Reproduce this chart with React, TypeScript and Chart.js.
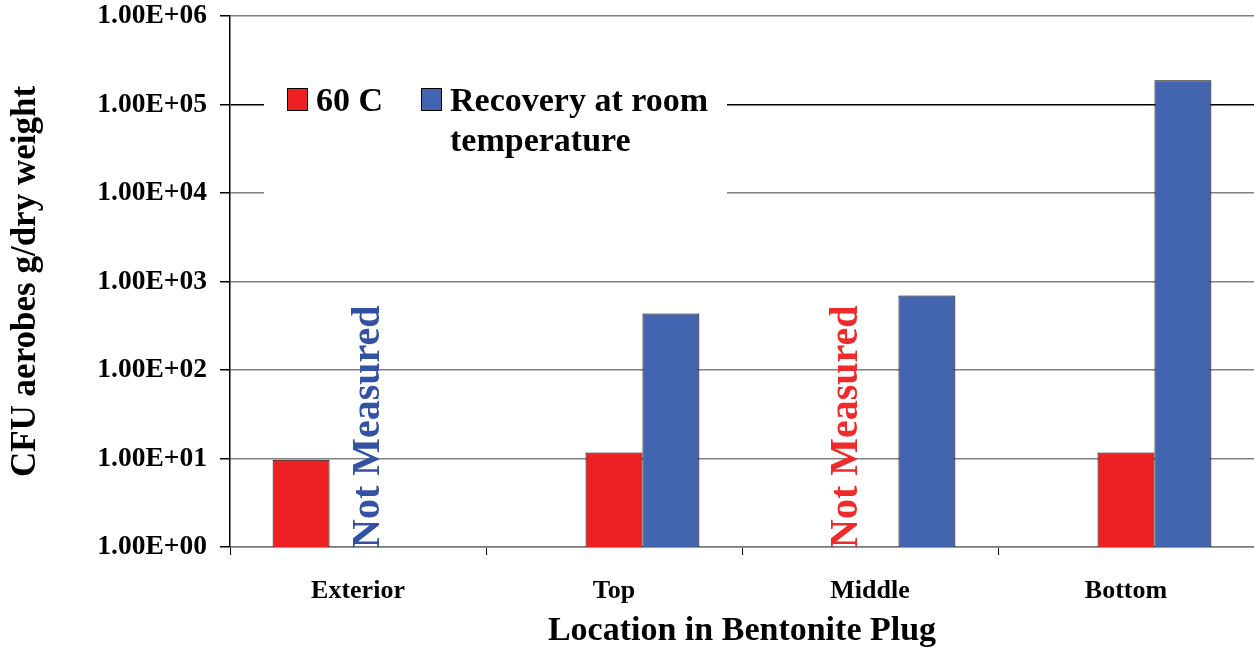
import React, { useEffect, useRef } from "react";
import { Chart, registerables } from "chart.js";

Chart.register(...registerables);

// ---------- data ----------
const categories = ["Exterior", "Top", "Middle", "Bottom"];
const seriesNames = ["60 C", "Recovery at room temperature"];
// Exterior 60 C bar sits in the first slot of the original three-slot layout
const exterior60C = [9.7, null, null, null];
const values60C = [null, 11.7, null, 11.7];
const valuesRecovery = [null, 434, 693, 188500];
const notMeasuredCategories = ["Exterior", "Middle"];
const notMeasuredSeries = [1, 0]; // 1 = Recovery, 0 = 60 C
const notMeasuredText = "Not Measured";
const yTickValues = [1, 10, 100, 1000, 10000, 100000, 1000000];
const yTickLabels = ["1.00E+00", "1.00E+01", "1.00E+02", "1.00E+03", "1.00E+04", "1.00E+05", "1.00E+06"];
const yAxisTitle = "CFU aerobes g/dry weight";
const xAxisTitle = "Location in Bentonite Plug";

// ---------- styles ----------
const RED = "#ED2024";
const BLUE = "#4364AE";
const NM_BLUE = "#3352A3";
const NM_RED = "#EE2A2A";
const FONT = "'Liberation Serif', 'Times New Roman', serif";

const legendPlugin = {
  id: "customLegend",
  afterDraw(chart: any) {
    const { ctx, chartArea } = chart;
    const L = chartArea.left;
    const T = chartArea.top;
    ctx.save();
    ctx.fillStyle = "#ffffff";
    ctx.fillRect(L + 34, T + 40, 463, 150);
    ctx.font = `bold 34px ${FONT}`;
    ctx.textBaseline = "alphabetic";
    ctx.textAlign = "left";
    const items = [
      { x: L + 57, color: RED, text: seriesNames[0] },
      { x: L + 191, color: BLUE, text: seriesNames[1] },
    ];
    items.forEach((it) => {
      ctx.fillStyle = it.color;
      ctx.fillRect(it.x, T + 72, 21, 23);
      ctx.strokeStyle = "#000";
      ctx.lineWidth = 1;
      ctx.strokeRect(it.x + 0.5, T + 72.5, 20, 22);
      ctx.fillStyle = "#000";
      const words = it.text.split(" ");
      const lines: string[] = [];
      let cur = "";
      words.forEach((w) => {
        const test = cur ? cur + " " + w : w;
        if (ctx.measureText(test).width > 275 && cur) {
          lines.push(cur);
          cur = w;
        } else cur = test;
      });
      if (cur) lines.push(cur);
      lines.forEach((ln, i) => ctx.fillText(ln, it.x + 29, T + 95 + i * 40));
    });
    ctx.restore();
  },
};

const notMeasuredPlugin = {
  id: "notMeasured",
  afterDatasetsDraw(chart: any) {
    const { ctx } = chart;
    const xs = chart.scales.x;
    const ys = chart.scales.y;
    const catW = (xs.right - xs.left) / categories.length;
    ctx.save();
    ctx.font = `bold 40px ${FONT}`;
    ctx.textAlign = "left";
    ctx.textBaseline = "alphabetic";
    notMeasuredCategories.forEach((cat, i) => {
      const idx = categories.indexOf(cat);
      const series = notMeasuredSeries[i];
      const xc = xs.getPixelForValue(idx);
      const bx = xc + (series === 1 ? 0.082 : -0.052) * catW;
      const by = ys.getPixelForValue(1) + 1;
      ctx.save();
      ctx.translate(bx, by);
      ctx.rotate(-Math.PI / 2);
      ctx.fillStyle = series === 1 ? NM_BLUE : NM_RED;
      ctx.fillText(notMeasuredText, 0, 0);
      ctx.restore();
    });
    ctx.restore();
  },
};

export default function App() {
  const ref = useRef<HTMLCanvasElement>(null);
  useEffect(() => {
    if (!ref.current) return;
    const chart = new Chart(ref.current, {
      type: "bar",
      data: {
        labels: categories,
        datasets: [
          {
            label: seriesNames[0] + " (Exterior)",
            data: exterior60C as any,
            backgroundColor: RED,
            borderColor: "#000",
            borderWidth: 1,
          },
          {
            label: seriesNames[0],
            data: values60C as any,
            backgroundColor: RED,
            borderColor: "#000",
            borderWidth: 1,
          },
          {
            label: seriesNames[1],
            data: valuesRecovery as any,
            backgroundColor: BLUE,
            borderColor: "#000",
            borderWidth: 1,
          },
        ],
      },
      options: {
        responsive: false,
        animation: false,
        devicePixelRatio: 1,
        layout: { padding: { top: 16, left: 0, right: 0, bottom: 0 } },
        datasets: { bar: { categoryPercentage: 0.667, barPercentage: 1 } },
        plugins: {
          legend: { display: false },
          tooltip: { enabled: false },
        },
        scales: {
          x: {
            type: "category",
            offset: true,
            grid: {
              display: true,
              drawOnChartArea: false,
              drawTicks: true,
              tickLength: 8,
              color: "#000",
              tickColor: "#000",
            },
            border: { display: true, color: "#777", width: 1.5 },
            ticks: {
              color: "#000",
              padding: 21,
              font: { family: FONT, size: 26, weight: "bold" },
              maxRotation: 0,
            },
            title: {
              display: true,
              text: xAxisTitle,
              color: "#000",
              font: { family: FONT, size: 34, weight: "bold" },
              padding: { top: 0, bottom: 1 },
            },
            afterFit: (s: any) => {
              s.height = 106;
              s.paddingLeft = 0;
              s.paddingRight = 0;
            },
          },
          y: {
            type: "logarithmic",
            min: 1,
            max: 1000000,
            grid: {
              color: (c: any) => (c.tick && c.tick.value === 100000 ? "#000" : "#808080"),
              lineWidth: 1.5,
              tickColor: "#000",
              tickLength: 10,
              drawTicks: true,
            },
            border: { display: true, color: "#000", width: 1.5 },
            ticks: {
              color: "#000",
              padding: 13,
              font: { family: FONT, size: 27.5, weight: "bold" },
              callback: (v: any) => yTickLabels[Math.round(Math.log10(Number(v)))],
            },
            afterBuildTicks: (s: any) => {
              s.ticks = yTickValues.map((v) => ({ value: v }));
            },
            title: {
              display: true,
              text: yAxisTitle,
              color: "#000",
              font: { family: FONT, size: 35, weight: "bold" },
              padding: { top: 5, bottom: 0 },
            },
            afterFit: (s: any) => {
              s.width = 230;
              s.paddingTop = 0;
              s.paddingBottom = 0;
            },
          },
        },
      },
      plugins: [notMeasuredPlugin, legendPlugin],
    });
    return () => chart.destroy();
  }, []);
  return (
    <div style={{ position: "fixed", left: 0, top: 0, width: 1254, height: 653, background: "#fff" }}>
      <canvas ref={ref} width={1254} height={653} style={{ display: "block" }} />
    </div>
  );
}
